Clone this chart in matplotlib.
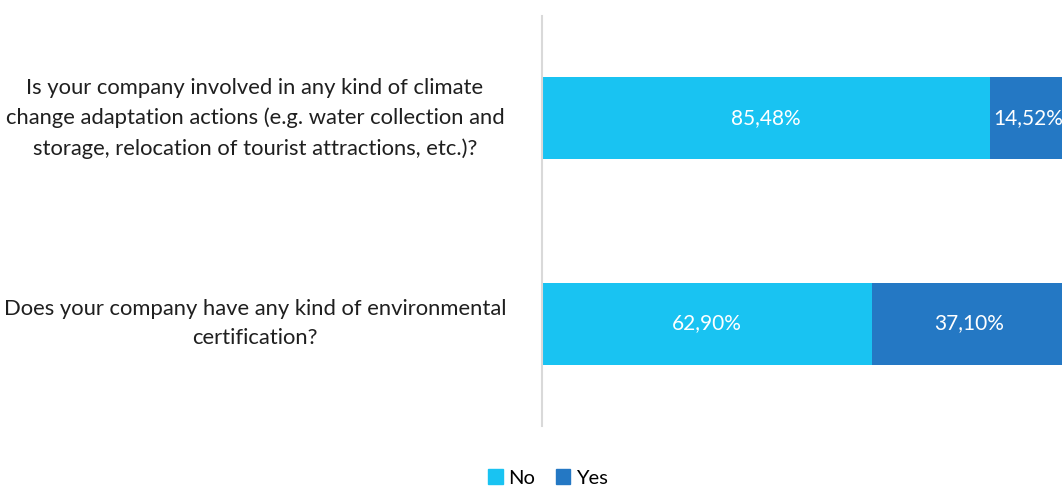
import matplotlib.pyplot as plt
from matplotlib.patches import Patch

questions = [
    "Is your company involved in any kind of climate\nchange adaptation actions (e.g. water collection and\nstorage, relocation of tourist attractions, etc.)?",
    "Does your company have any kind of environmental\ncertification?",
]
no_vals = [85.48, 62.90]
yes_vals = [14.52, 37.10]

c_no = "#19C3F2"
c_yes = "#2478C4"

plt.rcParams["font.family"] = ["Lato", "DejaVu Sans"]

fig = plt.figure(figsize=(10.62, 4.86), dpi=100)
ax = fig.add_axes([542 / 1062, 60 / 486, 520 / 1062, 410 / 486])

pos = list(range(len(questions)))
ax.barh(pos, no_vals, height=0.4, color=c_no)
ax.barh(pos, yes_vals, left=no_vals, height=0.4, color=c_yes)

for y, n, s in zip(pos, no_vals, yes_vals):
    ax.text(n / 2, y, f"{n:.2f}%".replace(".", ","), color="white",
            ha="center", va="center", fontsize=15)
    ax.text(n + s / 2, y, f"{s:.2f}%".replace(".", ","), color="white",
            ha="center", va="center", fontsize=15, clip_on=True)

ax.set_xlim(0, 99.24)
ax.set_ylim(1.5, -0.5)
ax.set_xticks([])
ax.set_yticks([])
for side in ["top", "right", "bottom"]:
    ax.spines[side].set_visible(False)
ax.spines["left"].set_color("#D9D9D9")
ax.spines["left"].set_linewidth(1.5)

# question text sits centred in the left margin
for y, q in zip(pos, questions):
    fig.text(255 / 1062, 1 - (16 + 205 * (y + 0.5)) / 486, q, ha="center",
             va="center", fontsize=15.8, color="#1F1F1F", linespacing=1.6)

handles = [Patch(color=c_no, label="No"), Patch(color=c_yes, label="Yes")]
fig.legend(handles=handles, loc="center", bbox_to_anchor=(548 / 1062, 1 - 478 / 486),
           ncol=2, frameon=False, fontsize=14.5, handlelength=0.7, handleheight=0.7,
           handletextpad=0.3, columnspacing=1.0)

fig.savefig("out.png", dpi=100)
